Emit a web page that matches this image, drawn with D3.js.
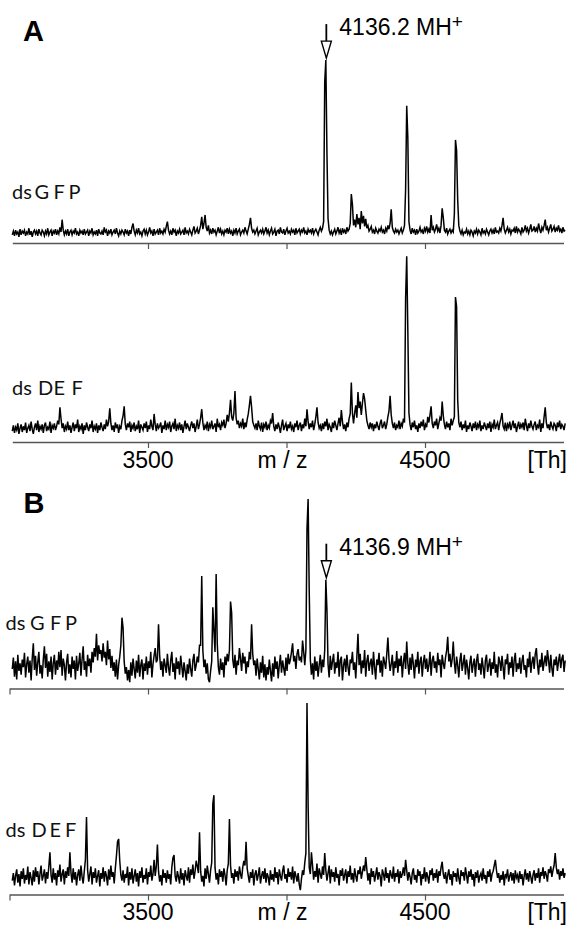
<!DOCTYPE html>
<html><head><meta charset="utf-8">
<script src="https://cdn.jsdelivr.net/npm/d3@7"></script>
<style>body{margin:0;background:#fff}svg{display:block}</style>
</head><body>
<svg id="chart" width="571" height="925"></svg>
<script>
// ---- data ----
const mzStart = 3010, mzStep = 4;           // sampling grid of the spectra (Th)
const ticksA = [3500, 4000, 4500];
const ticksB = [3000, 3500, 4000, 4500];
const tickLabels = ["3500", "4500"];
const tickLabelValues = [3500, 4500];
const axisTitle = "m / z";
const unitLabel = "[Th]";
const panelLetters = ["A", "B"];
const sampleGFP = ["ds", "G", "F", "P"];
const sampleDEF = ["ds", "D", "E", "F"];
const annotMz = [4142, 4142];
const annotLabels = ["4136.2", "4136.9"];
const annotSuffix = "MH";

const intensityA_GFP = [
8,12,7,13,9,11,6,14,8,12, 10,13,7,11,9,15,8,12,6,11, 13,9,12,7,14,10,8,13,11,7,
12,9,15,8,11,13,7,12,10,14, 8,12,9,16,11,24,13,8,12,9, 14,7,11,13,8,12,10,15,9,11,
7,13,10,12,8,14,9,11,13,7, 12,10,15,8,11,9,13,7,14,10, 9,12,8,16,11,13,7,12,10,14,
8,11,13,9,15,10,7,12,9,13, 11,8,14,10,12,7,13,9,16,20, 12,8,13,10,15,9,11,7,12,14,
9,13,8,11,16,10,12,7,14,9, 11,13,8,15,10,12,9,14,11,17, 22,13,9,12,8,15,11,13,7,12,
10,14,9,11,13,8,16,10,12,9, 14,11,8,13,17,10,12,15,9,13, 18,27,14,20,29,16,12,18,10,13,
9,15,11,13,8,12,16,10,14,9, 12,8,13,11,15,9,14,10,12,7, 13,10,15,9,12,14,8,11,13,10,
16,12,9,14,19,26,15,11,13,9, 12,15,8,11,13,10,14,9,12,16, 10,13,8,12,15,9,11,14,7,12,
13,9,16,11,10,14,8,12,15,10, 12,9,14,11,13,8,15,10,12,14, 9,13,11,16,10,12,8,14,11,13,
10,15,9,12,14,11,8,13,16,12, 15,22,169,192,94,25,13,9,12,8, 11,14,9,12,16,10,13,8,15,11,
13,9,16,12,14,20,51,40,18,24, 16,30,19,26,14,33,20,28,17,25, 15,18,12,14,17,11,13,9,15,12,
10,14,12,16,11,13,9,15,12,18, 14,20,35,16,12,10,14,11,13,9, 12,15,10,13,18,56,144,110,22,13,
9,15,11,13,8,14,10,12,16,11, 13,9,15,12,17,11,14,10,29,13, 16,11,14,19,12,15,10,18,36,26,
13,11,15,9,12,14,10,13,11,30, 108,97,45,18,12,9,13,8,11,10, 14,9,12,8,13,11,7,12,10,14,
9,13,11,8,15,10,12,9,14,11, 8,12,14,10,13,9,16,11,12,10, 15,12,18,26,14,10,13,16,11,14,
9,13,12,15,10,17,11,14,12,9, 16,11,13,18,12,15,10,14,19,12, 13,17,11,15,12,20,14,10,16,13,
18,24,13,16,11,15,19,12,14,17, 11,15,13,18,12,14,10,16,12,13];

const intensityA_DEF = [
11,17,9,15,12,19,8,14,18,10, 16,12,20,9,14,17,11,21,13,8, 15,19,12,22,10,16,13,18,9,17,
20,11,15,13,21,9,17,14,19,12, 16,22,18,36,24,14,19,10,16,13, 21,12,17,9,15,20,11,18,14,23,
10,16,13,19,8,17,12,20,15,11, 18,14,22,10,16,13,19,9,17,12, 20,15,11,18,13,23,16,21,35,19,
12,17,10,20,14,18,9,16,13,22, 27,37,18,12,19,15,21,10,17,14, 20,11,16,13,22,9,18,15,12,19,
14,21,10,17,13,23,16,12,29,18, 11,19,14,16,20,9,17,13,22,12, 18,15,21,10,16,19,13,24,11,17,
14,20,12,18,9,16,22,13,19,15, 11,17,21,14,19,10,16,23,13,18, 25,34,20,12,17,14,21,11,18,15,
22,13,16,19,10,24,15,18,12,20, 17,23,14,19,28,21,30,44,26,22, 30,53,25,18,22,14,19,16,24,13,
20,15,23,29,38,48,36,21,17,14, 19,12,22,16,13,20,10,18,15,21, 12,17,14,22,19,30,16,11,18,13,
20,15,9,17,23,12,16,19,11,18, 14,21,13,16,10,19,15,22,12,17, 20,11,18,14,24,16,34,21,13,19,
15,22,12,18,26,36,20,14,17,11, 19,13,21,16,24,12,18,15,10,20, 14,22,17,12,19,25,16,33,21,13,
18,11,20,15,24,29,62,30,19,30, 38,25,52,35,42,28,40,51,45,33, 22,17,13,20,15,19,11,18,14,21,
16,12,19,23,14,17,21,13,18,26, 32,48,28,19,14,20,12,17,15,22, 13,19,16,24,20,151,195,117,30,18,
12,20,15,22,13,17,10,19,14,21, 16,23,12,18,15,26,20,28,37,19, 14,21,17,24,13,19,25,22,42,27,
18,13,21,15,19,12,24,17,22,26, 152,142,44,20,15,21,12,18,14,22, 10,17,13,20,16,11,19,14,21,12,
18,15,22,11,17,13,20,16,12,19, 14,21,10,18,15,23,13,17,20,12, 19,24,30,16,13,20,11,18,15,21,
12,17,22,14,19,10,16,21,13,18, 15,20,12,24,17,11,19,14,22,16, 13,18,21,12,17,15,23,10,19,14,
26,36,20,14,18,12,21,16,13,19, 17,11,20,15,22,13,18,16,12,19];

const intensityB_GFP = [
20,32,12,28,9,35,18,26,14,30, 22,37,11,25,33,16,29,8,31,47, 19,34,13,27,38,15,24,10,30,44,
21,36,12,28,17,33,9,26,35,14, 29,19,38,22,40,13,31,24,8,27, 36,15,25,11,33,20,29,9,34,18,
26,37,13,30,44,19,28,12,35,23, 31,16,38,27,42,33,57,29,45,36, 40,28,47,32,38,24,50,30,41,21,
34,18,27,12,30,9,24,33,45,74, 63,28,15,22,8,19,6,27,13,31, 20,10,29,16,35,12,24,30,9,26,
18,33,14,28,21,38,11,25,34,42, 27,30,67,35,19,28,12,31,24,16, 36,22,13,29,38,17,26,9,32,20,
28,14,34,23,11,27,18,8,25,15, 31,20,12,29,36,18,24,33,27,45, 45,118,40,22,30,15,26,9,6,18,
28,85,60,38,120,47,22,14,31,19, 27,11,33,24,36,28,40,91,79,30, 21,35,14,29,24,42,31,18,37,26,
33,15,28,22,38,30,67,36,24,29, 13,31,20,9,27,16,34,11,25,8, 22,14,30,18,7,26,12,33,20,28,
10,24,35,16,29,21,13,32,18,36, 25,30,38,47,28,34,20,36,41,29, 33,27,50,38,24,40,168,199,103,30,
14,26,9,33,18,28,12,24,35,16, 30,22,40,114,82,25,11,34,19,28, 36,15,27,21,38,12,29,33,8,24,
31,17,35,22,13,30,26,38,19,27, 10,33,57,24,36,15,29,21,40,12, 28,35,18,26,31,14,38,22,9,30,
24,37,16,29,12,33,27,20,36,53, 30,18,25,35,13,28,21,39,16,31, 23,34,11,27,37,20,49,26,14,32,
19,36,25,10,30,22,38,15,28,33, 12,27,35,20,31,17,24,38,13,29, 34,21,28,16,37,24,30,11,35,26,
20,32,39,54,28,36,22,30,49,27, 15,33,24,11,29,37,18,26,35,14, 30,21,9,27,34,16,25,31,12,28,
36,19,26,14,32,22,10,29,35,17, 24,31,13,27,20,38,16,25,11,33, 28,18,34,22,9,30,25,36,14,27,
21,33,12,29,37,17,26,20,32,15, 28,35,19,24,11,31,22,38,16,27, 33,20,36,42,25,14,30,22,37,18,
27,34,23,40,29,16,35,21,12,30, 24,33,18,28,36,21,31,35,17,29];

const intensityB_DEF = [
14,22,9,19,26,12,21,8,24,16, 27,11,20,15,29,10,23,17,9,25, 13,28,18,24,10,21,30,14,19,26,
11,23,16,29,44,20,12,27,15,22, 9,25,18,31,13,21,26,10,24,17, 28,19,44,22,12,27,15,23,9,20,
26,14,30,18,11,24,36,81,25,13, 21,29,10,23,17,27,12,19,25,8, 22,16,28,13,24,19,9,26,15,30,
18,23,11,27,40,55,58,35,20,14, 25,12,21,17,29,9,23,15,27,11, 19,26,13,22,8,24,17,28,12,20,
16,27,10,23,18,30,14,21,36,19, 29,52,24,13,20,9,26,17,22,12, 25,16,21,10,28,38,41,19,13,24,
18,11,27,15,22,9,25,19,14,28, 12,26,20,31,16,24,35,29,22,65, 24,13,19,8,27,16,30,21,12,25,
33,95,104,28,15,22,10,26,18,24, 13,27,20,9,25,32,79,30,17,22, 11,26,18,24,14,29,21,16,28,35,
30,55,27,19,12,23,17,26,9,21, 25,14,20,28,11,19,24,16,27,12, 22,18,9,25,15,21,13,28,17,23,
10,26,19,14,24,30,16,21,12,27, 18,23,15,29,11,24,19,13,22,10, 4,16,25,20,33,43,201,94,28,21,
44,30,15,24,18,32,12,27,21,16, 29,20,43,25,14,22,30,11,26,18, 23,13,28,17,21,9,25,19,27,14,
20,26,11,24,18,30,15,22,12,27, 19,13,25,21,29,16,23,30,24,39, 26,14,22,10,27,18,24,13,20,28,
15,23,19,8,26,21,14,28,17,22, 12,25,20,16,29,13,22,18,26,11, 24,17,21,28,19,36,25,14,23,18,
10,22,27,15,20,12,26,19,24,9, 21,16,28,13,23,18,11,25,20,27, 14,22,17,26,12,24,19,28,34,21,
16,23,11,20,26,15,21,9,24,18, 22,13,27,17,10,25,19,23,14,28, 20,11,24,18,26,15,21,8,23,17,
25,12,19,22,14,27,16,20,11,24, 18,26,13,21,24,30,36,25,17,22, 12,20,15,24,9,21,18,26,13,19,
23,14,22,11,25,17,20,12,24,16, 21,9,19,26,15,22,13,24,18,11, 20,25,14,22,17,27,12,23,19,28,
16,24,20,13,26,22,29,18,25,30, 43,28,21,26,15,24,19,27,17,22];

// ---- layout ----
const svg = d3.select("#chart");
const x = d3.scaleLinear().domain([3000, 5000]).range([9.5, 563.5]);
const sansFont = "'Liberation Sans', Arial, Helvetica, sans-serif";
const labelFont = "Lato, 'Open Sans', sans-serif";
const axisColor = "#555";

const panels = [
  {data: intensityA_GFP, axisY: 242.5, axisStart: 3010, ticks: ticksA, name: sampleGFP,
   nameX: [12, 34.5, 53.5, 68.5], nameY: 198.5, labels: false, annot: 0},
  {data: intensityA_DEF, axisY: 441.5, axisStart: 3010, ticks: ticksA, name: sampleDEF,
   nameX: [12, 38, 53.5, 71.5], nameY: 395, labels: true},
  {data: intensityB_GFP, axisY: 688, axisStart: 3000, ticks: ticksB, name: sampleGFP,
   nameX: [5.5, 30, 50, 65], nameY: 629.5, labels: false, annot: 1},
  {data: intensityB_DEF, axisY: 894, axisStart: 3000, ticks: ticksB, name: sampleDEF,
   nameX: [5.5, 31.5, 49.5, 65], nameY: 837, labels: true}
];

panels.forEach(p => {
  const y = d3.scaleLinear().domain([0, 200]).range([p.axisY, p.axisY - 190]);
  const g = svg.append("g");

  // axis
  const xa = d3.scaleLinear().domain([p.axisStart, 5000]).range([x(p.axisStart), x(5000)]);
  const axis = d3.axisBottom(xa).tickValues(p.ticks).tickSize(6).tickSizeOuter(0).tickFormat("");
  const ag = g.append("g").attr("transform", `translate(0,${p.axisY + 0.5})`).call(axis);
  ag.select(".domain").attr("stroke", axisColor).attr("stroke-width", 1.4);
  ag.selectAll(".tick line").attr("stroke", axisColor).attr("stroke-width", 1.2);

  // spectrum trace
  const line = d3.line()
    .x((d, i) => x(mzStart + i * mzStep))
    .y(d => y(d));
  g.append("path").datum(p.data)
    .attr("d", line).attr("fill", "none")
    .attr("stroke", "#000").attr("stroke-width", 1.5).attr("stroke-linejoin", "miter");

  // sample name
  const t = g.append("text").attr("y", p.nameY)
    .attr("font-family", labelFont).attr("font-size", 20).attr("fill", "#111");
  p.name.forEach((s, i) => t.append("tspan").attr("x", p.nameX[i]).text(s));

  // tick labels
  if (p.labels) {
    const ly = p.axisY + 26;
    tickLabelValues.forEach((v, i) => {
      g.append("text").attr("x", x(v)).attr("y", ly).attr("text-anchor", "middle")
        .attr("font-family", sansFont).attr("font-size", 23).text(tickLabels[i]);
    });
    g.append("text").attr("x", x(4000) - 4).attr("y", ly).attr("text-anchor", "middle")
      .attr("font-family", sansFont).attr("font-size", 23).text(axisTitle);
    g.append("text").attr("x", 567).attr("y", ly).attr("text-anchor", "end")
      .attr("font-family", sansFont).attr("font-size", 23).text(unitLabel);
  }

  // annotation arrow over the peak nearest the annotated m/z
  if (p.annot !== undefined) {
    const c = Math.round((annotMz[p.annot] - mzStart) / mzStep);
    const idx = d3.maxIndex(p.data.slice(c - 2, c + 3)) + c - 2;
    const ax = x(mzStart + idx * mzStep) + 0.5;
    const tip = y(p.data[idx]) - 2;
    const top = tip - 34;
    g.append("line").attr("x1", ax).attr("x2", ax).attr("y1", top).attr("y2", tip - 17)
      .attr("stroke", "#000").attr("stroke-width", 1.8);
    g.append("path")
      .attr("d", `M${ax - 5},${tip - 17}L${ax + 5},${tip - 17}L${ax},${tip}Z`)
      .attr("fill", "#fff").attr("stroke", "#000").attr("stroke-width", 1.4);
    const at = g.append("text").attr("x", ax + 13).attr("y", top + 11)
      .attr("font-family", sansFont).attr("font-size", 23);
    at.append("tspan").text(annotLabels[p.annot] + " " + annotSuffix);
    at.append("tspan").attr("dy", -7).attr("font-size", 19).text("+");
  }
});

// panel letters
svg.append("text").attr("x", 23).attr("y", 40.5).attr("font-family", sansFont)
  .attr("font-weight", "bold").attr("font-size", 29).text(panelLetters[0]);
svg.append("text").attr("x", 23.5).attr("y", 513).attr("font-family", sansFont)
  .attr("font-weight", "bold").attr("font-size", 29).text(panelLetters[1]);
</script>
</body></html>
